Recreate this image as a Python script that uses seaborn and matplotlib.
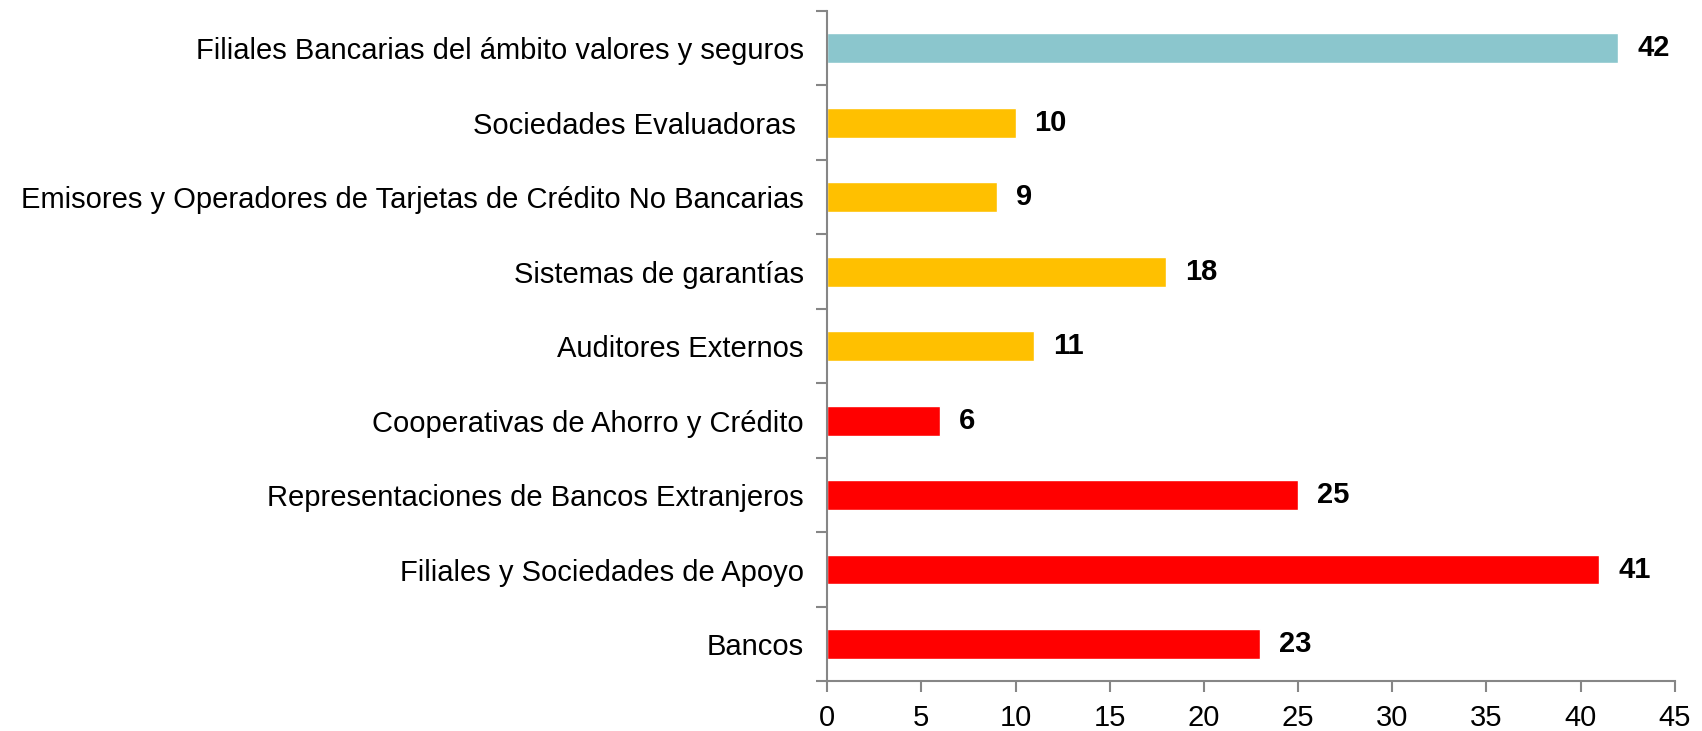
import pandas as pd
import matplotlib
matplotlib.use('Agg')
import matplotlib.pyplot as plt
import seaborn as sns
from matplotlib.ticker import FixedLocator, NullFormatter

sns.set_style("white")
plt.rcParams['font.family'] = ['Liberation Sans', 'DejaVu Sans']
plt.rcParams['text.color'] = 'black'
plt.rcParams['xtick.color'] = 'black'
plt.rcParams['ytick.color'] = 'black'

# Data (top to bottom)
categories = [
    "Filiales Bancarias del ámbito valores y seguros",
    "Sociedades Evaluadoras ",
    "Emisores y Operadores de Tarjetas de Crédito No Bancarias",
    "Sistemas de garantías",
    "Auditores Externos",
    "Cooperativas de Ahorro y Crédito",
    "Representaciones de Bancos Extranjeros",
    "Filiales y Sociedades de Apoyo",
    "Bancos",
]
values = [42, 10, 9, 18, 11, 6, 25, 41, 23]
bar_colors = ["#8BC6CD", "#FFC000", "#FFC000", "#FFC000", "#FFC000",
              "#FF0000", "#FF0000", "#FF0000", "#FF0000"]

df = pd.DataFrame({'category': categories, 'value': values})
palette = dict(zip(categories, bar_colors))

fig = plt.figure(figsize=(17.02, 7.31), dpi=100)
ax = fig.add_axes([0.486, 0.068, 0.498, 0.917])

sns.barplot(data=df, x='value', y='category', hue='category', palette=palette,
            order=categories, hue_order=categories, legend=False,
            width=0.4, saturation=1, ax=ax)

for i, v in enumerate(values):
    ax.text(v + 1.0, i, str(v), va='center', ha='left', fontsize=21, fontweight='bold')

ax.set_xlim(0, 45)
ax.set_ylim(len(categories) - 0.5, -0.5)
ax.set_xticks(range(0, 46, 5))
ax.set_xlabel('')
ax.set_ylabel('')

# y ticks at category boundaries
ax.yaxis.set_minor_locator(FixedLocator([i - 0.5 for i in range(len(categories) + 1)]))
ax.yaxis.set_minor_formatter(NullFormatter())
ax.tick_params(axis='y', which='major', left=False, length=0, labelsize=21, pad=17)
ax.tick_params(axis='y', which='minor', left=True, length=8, width=1.5, color='#868686')
ax.tick_params(axis='x', which='major', bottom=True, length=8, width=1.5, color='#868686',
               labelsize=21, pad=8)

for side in ['top', 'right']:
    ax.spines[side].set_visible(False)
for side in ['left', 'bottom']:
    ax.spines[side].set_color('#868686')
    ax.spines[side].set_linewidth(1.5)

plt.savefig('out.png', dpi=100)
